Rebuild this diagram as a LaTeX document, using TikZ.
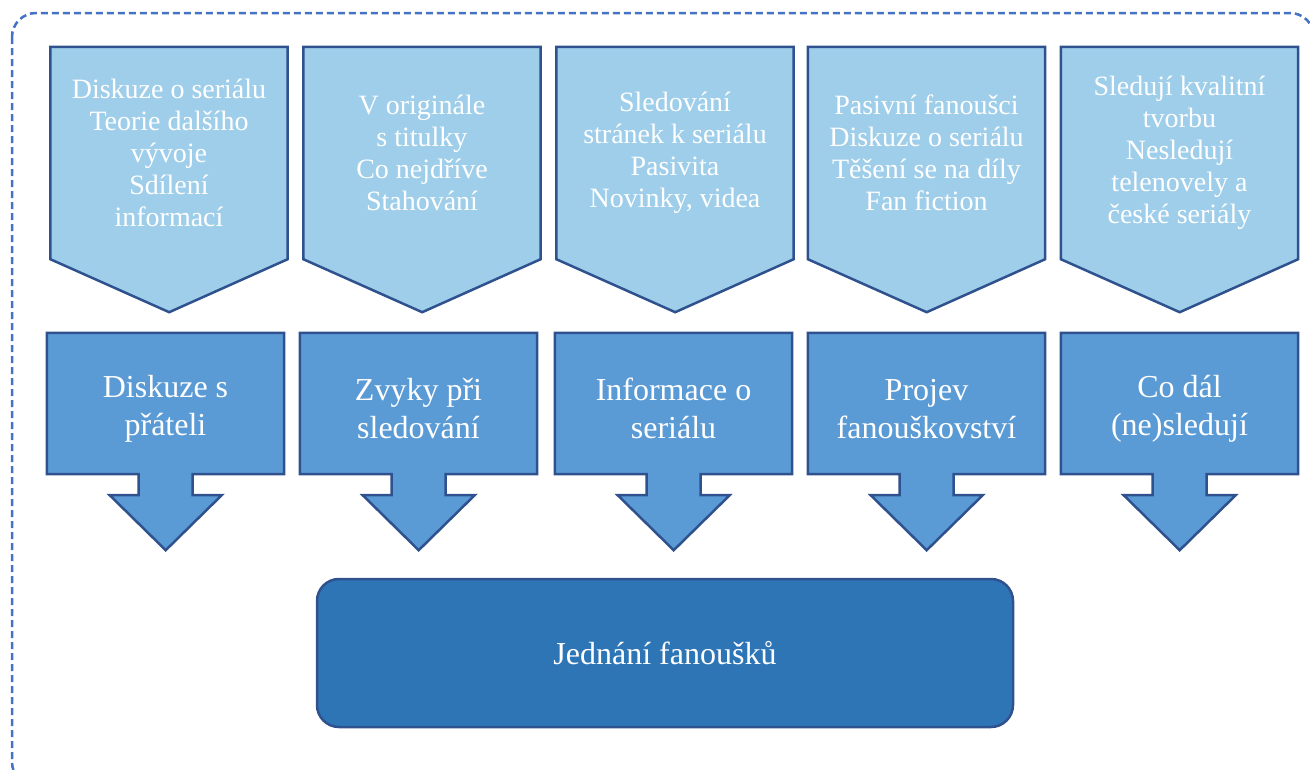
\documentclass[tikz,border=0pt]{standalone}
\definecolor{aspectFill}{RGB}{159, 206, 234}
\definecolor{themeFill}{RGB}{91, 155, 213}
\definecolor{mainFill}{RGB}{46, 117, 182}
\definecolor{shapeLine}{RGB}{47, 82, 143}
\definecolor{frameLine}{RGB}{68, 114, 196}
\usepackage{fontspec}
\setmainfont{Liberation Serif}
\usepackage{tikz}
\usetikzlibrary{positioning, calc, backgrounds}

\begin{document}
\begin{tikzpicture}[
    x=1pt, y=-1pt,
    frame/.style={draw=frameLine, line width=2.5pt, dash pattern=on 7pt off 4pt,
                  rounded corners=24pt},
    aspect/.style={rectangle, minimum width=237pt, minimum height=212pt,
                   align=center, text=white,
                   font=\fontsize{28}{32}\selectfont},
    theme/.style={rectangle, minimum width=237pt, minimum height=141pt,
                  align=center, text=white, text height=71pt,
                  font=\fontsize{32}{38}\selectfont},
    chevron/.style={fill=aspectFill, draw=shapeLine, line width=2.5pt},
    themearrow/.style={fill=themeFill, draw=shapeLine, line width=2.5pt},
    mainbox/.style={rectangle, fill=mainFill, draw=shapeLine, line width=2.5pt,
                    rounded corners=22pt, minimum width=696pt, minimum height=148pt,
                    text=white, font=\fontsize{32}{38}\selectfont},
  ]
    \useasboundingbox (0,0) rectangle (1310,769);

    % Outer dashed frame
    \draw[frame] (12,13) rectangle (1314,786);

    % Top row: what the fans say
    \node[aspect] (A1) at (169,153) {Diskuze o seriálu\\Teorie dalšího\\vývoje\\Sdílení\\informací};
    \node[aspect] (A2) at (422,153) {V originále\\s titulky\\Co nejdříve\\Stahování};
    \node[aspect] (A3) at (675,153) {Sledování\\stránek k seriálu\\Pasivita\\Novinky, videa};
    \node[aspect] (A4) at (926.5,153) {Pasivní fanoušci\\Diskuze o seriálu\\Těšení se na díly\\Fan fiction};
    \node[aspect] (A5) at (1179.5,153) {Sledují kvalitní\\tvorbu\\Nesledují\\telenovely a\\české seriály};

    % Middle row: themes
    \node[theme] (T1) at (165.5,403.5) {Diskuze s\\přáteli};
    \node[theme] (T2) at (418.5,403.5) {Zvyky při\\sledování};
    \node[theme] (T3) at (673.5,403.5) {Informace o\\seriálu};
    \node[theme] (T4) at (926.5,403.5) {Projev\\fanouškovství};
    \node[theme] (T5) at (1179.5,403.5) {Co dál\\(ne)sledují};

    % Bottom box
    \node[mainbox] (BEH) at (665,653) {Jednání fanoušků};

    \begin{scope}[on background layer]
      \draw[chevron] (A1.north west) -- (A1.north east) -- (A1.south east) -- ++(-118.5,53) -- (A1.south west) -- cycle;
      \draw[chevron] (A2.north west) -- (A2.north east) -- (A2.south east) -- ++(-118.5,53) -- (A2.south west) -- cycle;
      \draw[chevron] (A3.north west) -- (A3.north east) -- (A3.south east) -- ++(-118.5,53) -- (A3.south west) -- cycle;
      \draw[chevron] (A4.north west) -- (A4.north east) -- (A4.south east) -- ++(-118.5,53) -- (A4.south west) -- cycle;
      \draw[chevron] (A5.north west) -- (A5.north east) -- (A5.south east) -- ++(-118.5,53) -- (A5.south west) -- cycle;

      \draw[themearrow] (T1.north west) -- (T1.north east) -- (T1.south east) -- ++(-91.5,0) -- ++(0,21)
        -- ++(29,0) -- ++(-56,55) -- ++(-56,-55) -- ++(29,0) -- ++(0,-21) -- (T1.south west) -- cycle;
      \draw[themearrow] (T2.north west) -- (T2.north east) -- (T2.south east) -- ++(-91.5,0) -- ++(0,21)
        -- ++(29,0) -- ++(-56,55) -- ++(-56,-55) -- ++(29,0) -- ++(0,-21) -- (T2.south west) -- cycle;
      \draw[themearrow] (T3.north west) -- (T3.north east) -- (T3.south east) -- ++(-91.5,0) -- ++(0,21)
        -- ++(29,0) -- ++(-56,55) -- ++(-56,-55) -- ++(29,0) -- ++(0,-21) -- (T3.south west) -- cycle;
      \draw[themearrow] (T4.north west) -- (T4.north east) -- (T4.south east) -- ++(-91.5,0) -- ++(0,21)
        -- ++(29,0) -- ++(-56,55) -- ++(-56,-55) -- ++(29,0) -- ++(0,-21) -- (T4.south west) -- cycle;
      \draw[themearrow] (T5.north west) -- (T5.north east) -- (T5.south east) -- ++(-91.5,0) -- ++(0,21)
        -- ++(29,0) -- ++(-56,55) -- ++(-56,-55) -- ++(29,0) -- ++(0,-21) -- (T5.south west) -- cycle;
    \end{scope}
  \end{tikzpicture}
\end{document}
